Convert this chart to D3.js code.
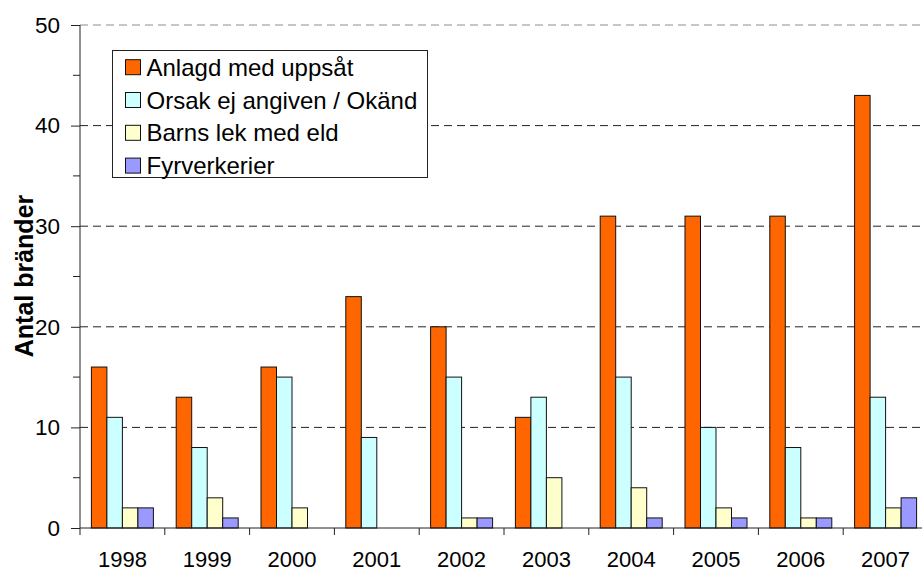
<!DOCTYPE html>
<html>
<head>
<meta charset="utf-8">
<script src="https://cdn.jsdelivr.net/npm/d3@7"></script>
<style>
  html, body { margin: 0; padding: 0; background: #fff; }
  svg { display: block; font-family: "Liberation Sans", Arial, sans-serif; }
</style>
</head>
<body>
<svg id="chart" width="922" height="572"></svg>
<script>
// Bränder per år och orsak
const years = ["1998", "1999", "2000", "2001", "2002", "2003", "2004", "2005", "2006", "2007"];
const seriesNames = ["Anlagd med uppsåt", "Orsak ej angiven / Okänd", "Barns lek med eld", "Fyrverkerier"];
const anlagd      = [16, 13, 16, 23, 20, 11, 31, 31, 31, 43];
const okand       = [11,  8, 15,  9, 15, 13, 15, 10,  8, 13];
const barnsLek    = [ 2,  3,  2,  0,  1,  5,  4,  2,  1,  2];
const fyrverkerier= [ 2,  1,  0,  0,  1,  0,  1,  1,  1,  3];
const yTicks = [0, 10, 20, 30, 40, 50];
const colors = ["#FF6600", "#CCFFFF", "#FFFFCC", "#9999FF"];

const seriesValues = [anlagd, okand, barnsLek, fyrverkerier];

const svg = d3.select("#chart");
const plotLeft = 80, plotRight = 928, plotTop = 25, plotBottom = 528;

const x = d3.scaleBand().domain(years).range([plotLeft, plotRight]).paddingInner(0).paddingOuter(0);
const groupPad = 11.4;
const xInner = d3.scaleBand().domain(d3.range(seriesNames.length))
  .range([groupPad, x.bandwidth() - groupPad]).padding(0);
const y = d3.scaleLinear().domain([0, 50]).range([plotBottom, plotTop]);

// Streckade stödlinjer
svg.append("g")
  .selectAll("line")
  .data(yTicks.filter(d => d > 0))
  .join("line")
  .attr("x1", plotLeft).attr("x2", 922)
  .attr("y1", d => y(d)).attr("y2", d => y(d))
  .attr("stroke", d => d === 50 ? "#8c8c8c" : "#222")
  .attr("stroke-width", 1)
  .attr("stroke-dasharray", "8,5");

// Staplar
const groups = svg.append("g")
  .selectAll("g")
  .data(years)
  .join("g")
  .attr("transform", d => `translate(${x(d)},0)`);

groups.selectAll("rect")
  .data((yr, i) => seriesValues.map((vals, s) => ({ s, v: vals[i] })).filter(d => d.v > 0))
  .join("rect")
  .attr("x", d => xInner(d.s))
  .attr("width", xInner.bandwidth())
  .attr("y", d => y(d.v))
  .attr("height", d => y(0) - y(d.v))
  .attr("fill", d => colors[d.s])
  .attr("stroke", "#111")
  .attr("stroke-width", 1);

// Y-axel
const yAxis = d3.axisLeft(y).tickValues(yTicks).tickSize(9).tickPadding(11).tickFormat(d3.format("d"));
const gy = svg.append("g").attr("transform", `translate(${plotLeft},0)`).call(yAxis);
gy.select(".domain").attr("stroke", "#222").attr("d", `M0,${y(0)}V${y(50)}`);
gy.selectAll(".tick line").attr("stroke", "#222");
gy.selectAll(".tick text").attr("font-size", 22.5).attr("fill", "#000")
  .attr("font-family", "Liberation Sans, Arial, sans-serif");
// Mellanliggande markeringar
gy.append("g").selectAll("line")
  .data([5, 15, 25, 35, 45])
  .join("line")
  .attr("x1", -7).attr("x2", 0)
  .attr("y1", d => y(d)).attr("y2", d => y(d))
  .attr("stroke", "#222");

// X-axel
const gx = svg.append("g").attr("transform", `translate(0,${plotBottom})`);
gx.append("line").attr("x1", plotLeft).attr("x2", 922).attr("y1", 0).attr("y2", 0).attr("stroke", "#222");
gx.selectAll("line.tk")
  .data(years)
  .join("line")
  .attr("class", "tk")
  .attr("x1", d => x(d)).attr("x2", d => x(d))
  .attr("y1", 0).attr("y2", 7)
  .attr("stroke", "#222");
gx.selectAll("text")
  .data(years)
  .join("text")
  .attr("x", d => x(d) + x.bandwidth() / 2)
  .attr("y", 38.5)
  .attr("text-anchor", "middle")
  .attr("font-size", 22)
  .attr("fill", "#000")
  .text(d => d);

// Y-axelns titel
svg.append("text")
  .attr("transform", "translate(33,276) rotate(-90)")
  .attr("text-anchor", "middle")
  .attr("font-size", 25)
  .attr("font-weight", "bold")
  .attr("fill", "#000")
  .text("Antal bränder");

// Teckenförklaring
const lg = svg.append("g");
lg.append("rect")
  .attr("x", 112.5).attr("y", 50.5).attr("width", 315).attr("height", 127)
  .attr("fill", "#fff").attr("stroke", "#222").attr("stroke-width", 1);
const items = lg.selectAll("g.item")
  .data(seriesNames)
  .join("g")
  .attr("class", "item")
  .attr("transform", (d, i) => `translate(0,${67.2 + i * 32.8})`);
items.append("rect")
  .attr("x", 125.5).attr("y", -7.5).attr("width", 15).attr("height", 15)
  .attr("fill", (d, i) => colors[i])
  .attr("stroke", "#111");
items.append("text")
  .attr("x", 146.5).attr("y", 8.5)
  .attr("font-size", 24)
  .attr("fill", "#000")
  .text(d => d);
</script>
</body>
</html>
